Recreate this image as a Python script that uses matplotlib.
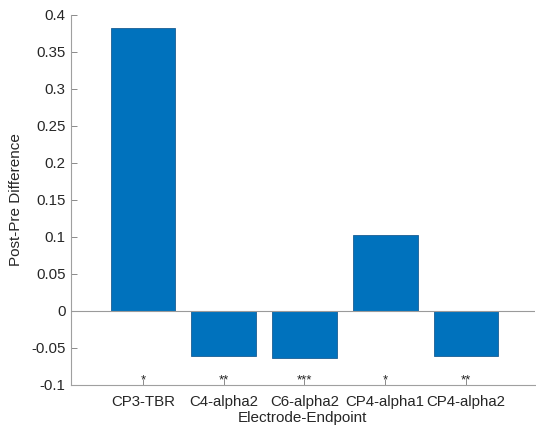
import matplotlib.pyplot as plt

plt.rcParams['font.family'] = ['Liberation Sans', 'DejaVu Sans']

labels = ['CP3-TBR', 'C4-alpha2', 'C6-alpha2', 'CP4-alpha1', 'CP4-alpha2']
diffs = [0.383, -0.061, -0.064, 0.102, -0.061]
stars = ['*', '**', '***', '*', '**']

fig = plt.figure(figsize=(5.36, 4.30), dpi=100)
ax = fig.add_axes([0.1325, 0.1047, 0.865, 0.8605])

pos = list(range(1, len(labels) + 1))
ax.bar(pos, diffs, width=0.8, color='#0072BD', edgecolor='#1a5e94', linewidth=0.6, zorder=2)
ax.axhline(0, color='#9a9a9a', linewidth=0.8, zorder=3)

for x, s in zip(pos, stars):
    ax.text(x, -0.0935, s, ha='center', va='center', fontsize=9.5, color='#222222')

ax.set_xlim(0.11, 5.85)
ax.set_ylim(-0.1, 0.4)
ax.set_yticks([-0.1, -0.05, 0, 0.05, 0.1, 0.15, 0.2, 0.25, 0.3, 0.35, 0.4])
ax.set_yticklabels(['-0.1', '-0.05', '0', '0.05', '0.1', '0.15', '0.2', '0.25', '0.3', '0.35', '0.4'])
ax.set_xticks(pos)
ax.set_xticklabels(labels)

for side in ['top', 'right']:
    ax.spines[side].set_visible(False)
for side in ['left', 'bottom']:
    ax.spines[side].set_color('#a0a0a0')
    ax.spines[side].set_linewidth(0.8)
ax.tick_params(direction='in', length=4, width=0.6, color='#777777',
               labelsize=10.8, labelcolor='#262626')
ax.tick_params(axis='x', pad=7)
ax.tick_params(axis='y', pad=4)

ax.set_xlabel('Electrode-Endpoint', fontsize=11, color='#262626', labelpad=2)
ax.set_ylabel('Post-Pre Difference', fontsize=11, color='#262626', labelpad=6)

plt.savefig('out.png', dpi=100)
